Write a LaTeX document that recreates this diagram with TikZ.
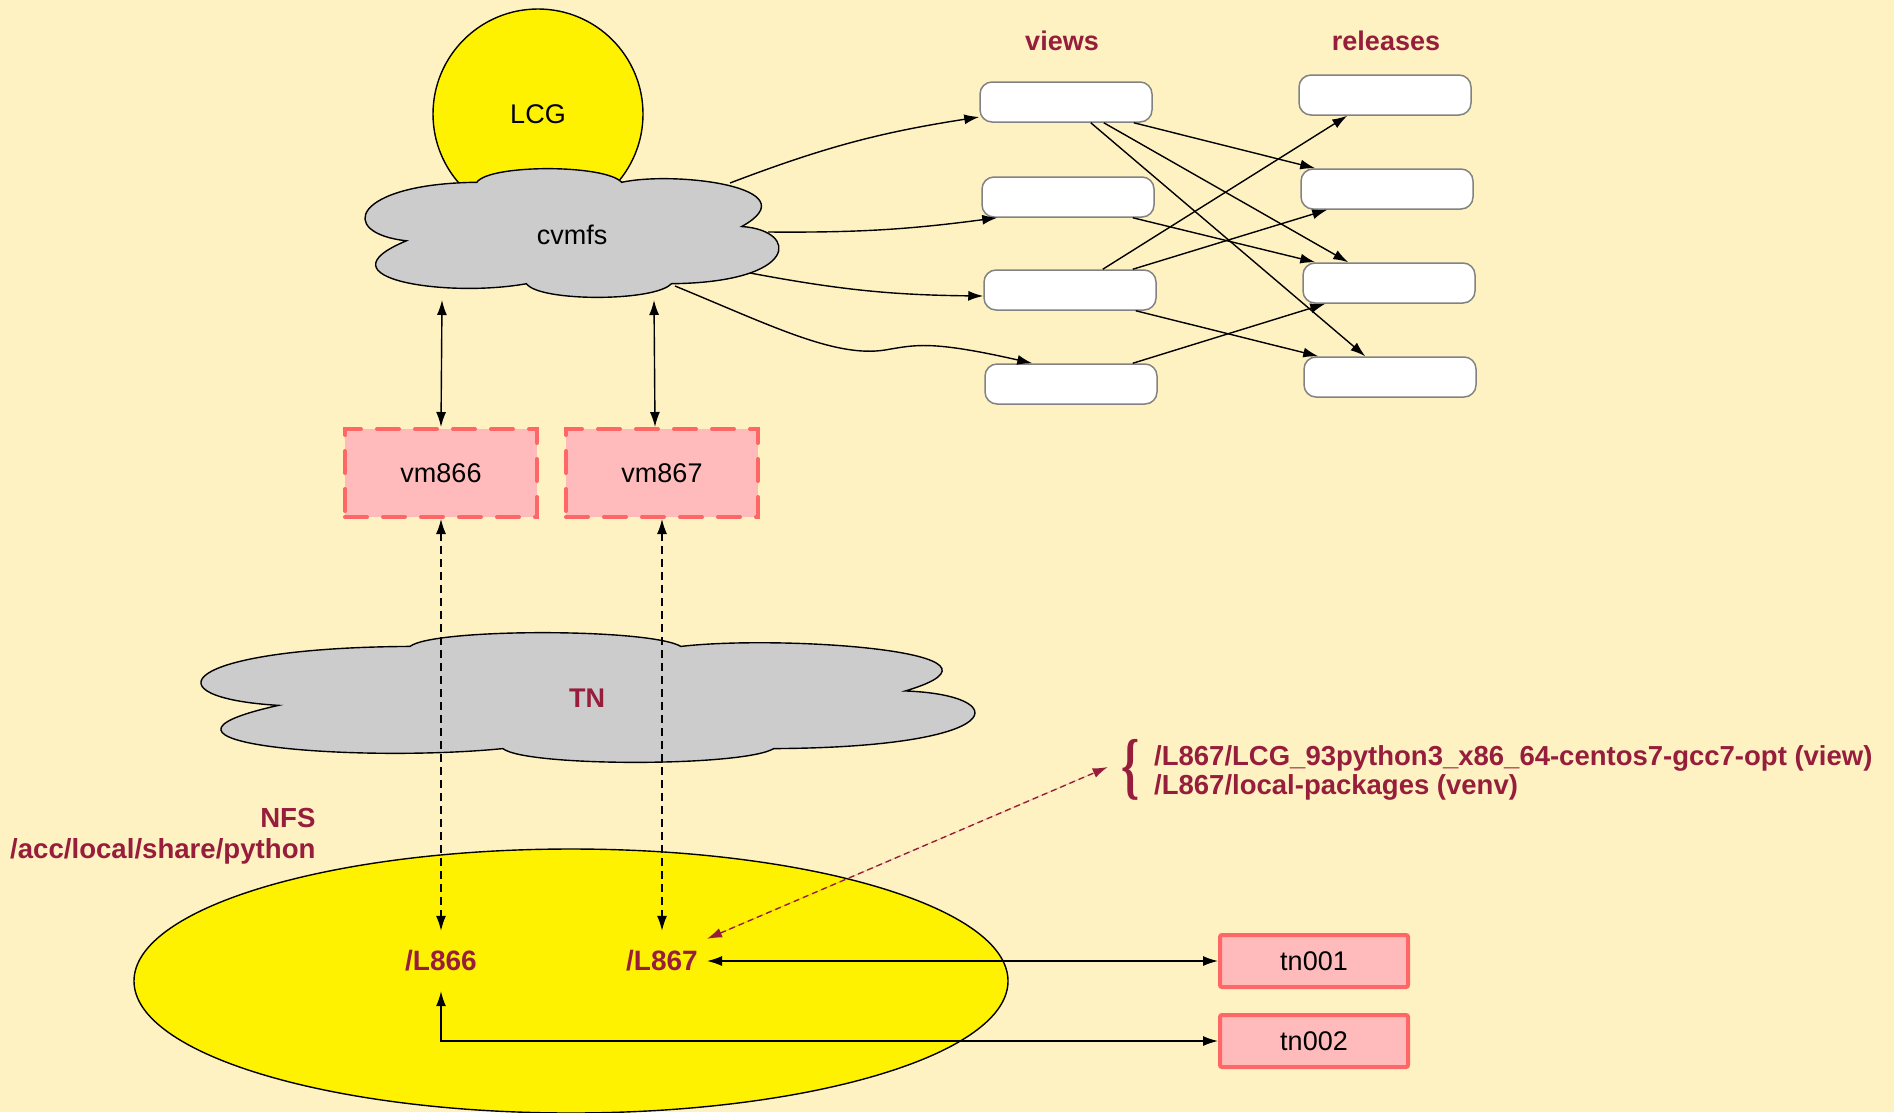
\documentclass[tikz,border=0pt]{standalone}
\usepackage{fontspec}
\setmainfont{Liberation Sans}
\newfontfamily\braceserif{Liberation Serif}
\usetikzlibrary{arrows.meta,shapes.geometric}
\definecolor{bgc}{RGB}{255,242,194}
\definecolor{dred}{RGB}{150,30,60}
\definecolor{pinkfill}{RGB}{255,187,187}
\definecolor{pinkdraw}{RGB}{255,102,102}
\definecolor{cloudgray}{RGB}{204,204,204}
\definecolor{boxgray}{RGB}{130,130,130}
\newcommand\mycloud[5]{%
 \begin{scope}[shift={(#1,#2)},xscale=#3,yscale=#4]
 \draw[#5] (0.10,0.56) .. controls (-0.07,0.50) and (-0.03,0.12) .. (0.27,0.11)
   .. controls (0.30,-0.03) and (0.58,-0.03) .. (0.62,0.11)
   .. controls (0.75,0.02) and (1.08,0.15) .. (0.91,0.45)
   .. controls (1.05,0.48) and (1.05,0.88) .. (0.74,0.89)
   .. controls (0.70,1.03) and (0.42,1.03) .. (0.39,0.89)
   .. controls (0.20,1.00) and (-0.12,0.85) .. (0.10,0.56) -- cycle;
 \end{scope}}
\begin{document}
\begin{tikzpicture}[x=1pt,y=-1pt,
  rfont/.style={font=\fontsize{27}{31}\selectfont},
  lbl/.style={text=dred,font=\bfseries\fontsize{27}{31}\selectfont},
  vbox/.style={draw=boxgray,fill=white,line width=1.5pt,rounded corners=12pt,minimum width=172pt,minimum height=40pt},
  vmbox/.style={draw=pinkdraw,fill=pinkfill,line width=4pt,dash pattern=on 22pt off 16pt,line cap=round,minimum width=192pt,minimum height=88pt,rfont},
  tnbox/.style={draw=pinkdraw,fill=pinkfill,line width=4pt,rounded corners=2pt,minimum width=188pt,minimum height=52pt,rfont},
  lnode/.style={lbl,font=\bfseries\fontsize{28}{31}\selectfont,minimum height=60pt,inner xsep=9pt},
  arr/.style={-{Latex[length=15pt,width=10pt]},line width=1.4pt},
  darr/.style={{Latex[length=15pt,width=10pt]}-{Latex[length=15pt,width=10pt]},line width=1.4pt},
  dsh/.style={dash pattern=on 8pt off 5pt}]
\useasboundingbox (0,0) rectangle (1894,1112);
\fill[bgc] (0,0) rectangle (1894,1112);

% LCG and cvmfs
\node[circle,draw,fill=yellow,line width=1.4pt,minimum size=210pt,inner sep=0pt,rfont] (lcg) at (538,114) {LCG};
\mycloud{365}{168}{414}{130}{fill=cloudgray,draw=black,line width=1.4pt}
\node[rfont] (cvmfs) at (572,235) {cvmfs};

% TN cloud
\mycloud{201}{632}{774}{131}{fill=cloudgray,draw=black,line width=1.4pt}
\node[lbl] (tn) at (587,698) {TN};

% NFS
\node[ellipse,draw,fill=yellow,line width=1.4pt,minimum width=874pt,minimum height=264pt,inner sep=0pt] (nfs) at (571,981) {};
\node[lbl,font=\bfseries\fontsize{27.6}{31}\selectfont,align=right,anchor=east] (nfslbl) at (319,836) {NFS\\/acc/local/share/python};
\node[lnode] (L866) at (441,961) {/L866};
\node[lnode] (L867) at (662,961) {/L867};

% headings
\node[lbl] (views) at (1062,41) {views};
\node[lbl] (releases) at (1386,41) {releases};

% view boxes
\node[vbox] (v1) at (1066,102) {};
\node[vbox] (v2) at (1068,197) {};
\node[vbox] (v3) at (1070,290) {};
\node[vbox] (v4) at (1071,384) {};
\node[vbox] (r1) at (1385,95) {};
\node[vbox] (r2) at (1387,189) {};
\node[vbox] (r3) at (1389,283) {};
\node[vbox] (r4) at (1390,377) {};

% vm boxes
\node[vmbox] (vm866) at (441,473) {vm866};
\node[vmbox] (vm867) at (662,473) {vm867};

% tn boxes
\node[tnbox] (tn001) at (1314,961) {tn001};
\node[tnbox] (tn002) at (1314,1041) {tn002};

% paths label
\node[text=dred,font=\braceserif\bfseries\fontsize{46}{46}\selectfont,yscale=1.6,inner sep=0pt] (brace) at (1131,770) {\{};
\node[anchor=west,text=dred,font=\bfseries\fontsize{27.5}{29}\selectfont,align=left,inner sep=0pt] (paths) at (1154,773)
 {/L867/LCG\_93python3\_x86\_64-centos7-gcc7-opt (view)\\/L867/local-packages (venv)};

% coordinates on cloud
\coordinate (c1) at (730,183);
\coordinate (c2) at (768,232);
\coordinate (c3) at (750,273);
\coordinate (c4) at (675,286);
\coordinate (c866) at (442,300);
\coordinate (c867) at (654,300);

% cvmfs -> views
\draw[arr] (c1) to[bend left=6] ([yshift=-15pt]v1.west);
\draw[arr] (c2) to[bend right=4] ([xshift=16pt]v2.south west);
\draw[arr] (c3) to[bend right=5] ([yshift=-6pt]v3.west);
\draw[arr] (c4) .. controls (770,325) and (835,358) .. (885,350) .. controls (915,345) and (930,340) .. ([xshift=48pt]v4.north west);

% views -> releases
\draw[arr] ([xshift=-19pt]v1.south east) -- ([xshift=15pt]r2.north west);
\draw[arr] ([xshift=-49pt]v1.south east) -- ([xshift=46pt]r3.north west);
\draw[arr] ([xshift=-62pt]v1.south east) -- ([xshift=62pt]r4.north west);
\draw[arr] ([xshift=-22pt]v2.south east) -- ([xshift=13pt]r3.north west);
\draw[arr] ([xshift=-54pt]v3.north east) -- ([xshift=49pt]r1.south west);
\draw[arr] ([xshift=-24pt]v3.north east) -- ([xshift=27pt]r2.south west);
\draw[arr] ([xshift=-21pt]v3.south east) -- ([xshift=15pt]r4.north west);
\draw[arr] ([xshift=-25pt]v4.north east) -- ([xshift=23pt]r3.south west);

% cvmfs <-> vm
\draw[darr] (c866) -- (vm866.north);
\draw[darr] (c867) -- ([xshift=-7pt]vm867.north);

% vm <-> L dashed
\draw[darr,dsh] (vm866.south) -- (L866.north);
\draw[darr,dsh] (vm867.south) -- (L867.north);

% L867 <-> paths
\draw[darr,dash pattern=on 6pt off 4pt,draw=dred,fill=dred] ([yshift=-8pt]L867.north east) -- ([xshift=-14pt,yshift=3pt]brace.west);

% L <-> tn
\draw[darr] (L867.east) -- (tn001.west);
\draw[darr] (tn002.west) -| (L866.south);
\end{tikzpicture}
\end{document}
